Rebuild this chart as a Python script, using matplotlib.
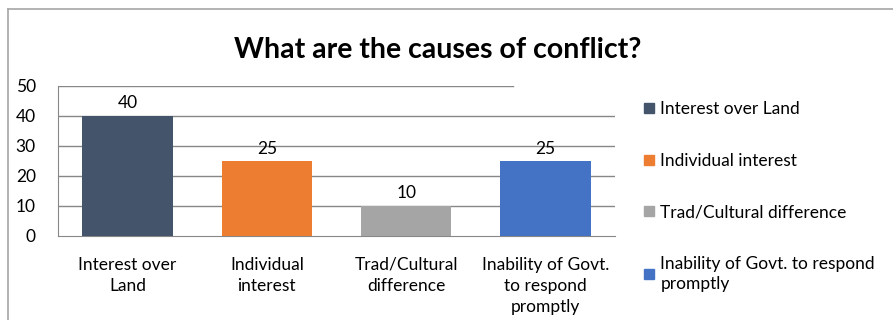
import matplotlib
matplotlib.use("Agg")
import matplotlib.pyplot as plt
from matplotlib.lines import Line2D

plt.rcParams['font.family'] = ['Lato', 'DejaVu Sans']

# ---- data ----
categories = ['Interest over\nLand', 'Individual\ninterest', 'Trad/Cultural\ndifference',
              'Inability of Govt.\nto respond\npromptly']
legend_labels = ['Interest over Land', 'Individual interest', 'Trad/Cultural difference',
                 'Inability of Govt. to respond\npromptly']
values = [40, 25, 10, 25]
colors = ['#44546A', '#ED7D31', '#A5A5A5', '#4472C4']
yticks = [0, 10, 20, 30, 40, 50]

fig = plt.figure(figsize=(8.93, 3.2), dpi=100)
ax = fig.add_axes([58 / 893, 84 / 320, 557 / 893, 150 / 320])

x = range(len(values))
bars = ax.bar(x, values, width=0.65, color=colors, zorder=3)
for b, v in zip(bars, values):
    ax.text(b.get_x() + b.get_width() / 2, v + 1.5, str(v), ha='center', va='bottom',
            fontsize=12.5, color='#000000')

ax.set_xlim(-0.5, 3.5)
ax.set_ylim(0, 50)
ax.set_yticks(yticks)
ax.set_yticklabels([str(t) for t in yticks], fontsize=12.5)
ax.set_xticks(list(x))
ax.set_xticklabels(categories, fontsize=12.5, linespacing=1.4)
ax.tick_params(axis='both', length=0, colors='#000000')
ax.tick_params(axis='y', pad=16)
ax.tick_params(axis='x', pad=15)

# gridlines (top one is cut short by the title box in the original)
for t in yticks[1:-1]:
    ax.axhline(t, color='#878787', linewidth=1, zorder=1)
ax.axhline(50, xmax=(513 - 58) / 557, color='#878787', linewidth=1, zorder=1)

for s in ['top', 'right']:
    ax.spines[s].set_visible(False)
ax.spines['left'].set_color('#878787')
ax.spines['bottom'].set_color('#878787')

fig.text(438 / 893, 1 - 50 / 320, 'What are the causes of conflict?', ha='center', va='center',
         fontsize=20.5, fontweight='bold', color='#000000')

handles = [Line2D([0], [0], marker='s', linestyle='none', markersize=7,
                  markerfacecolor=c, markeredgecolor=c) for c in colors]
leg = fig.legend(handles, legend_labels, loc='upper left', bbox_to_anchor=(644 / 893, 1 - 101 / 320),
                 frameon=False, fontsize=12.5, handlelength=0.6, handletextpad=0.35,
                 labelspacing=2.05, borderaxespad=0, borderpad=0)
leg.get_texts()[3].set_linespacing(1.35)

# outer chart frame
fig.add_artist(Line2D([8 / 893, 1], [1 - 9 / 320, 1 - 9 / 320], color='#A6A6A6', linewidth=1.2,
                      transform=fig.transFigure))
fig.add_artist(Line2D([8 / 893, 8 / 893], [0, 1 - 9 / 320], color='#A6A6A6', linewidth=1.2,
                      transform=fig.transFigure))

fig.savefig('out.png', dpi=100)
